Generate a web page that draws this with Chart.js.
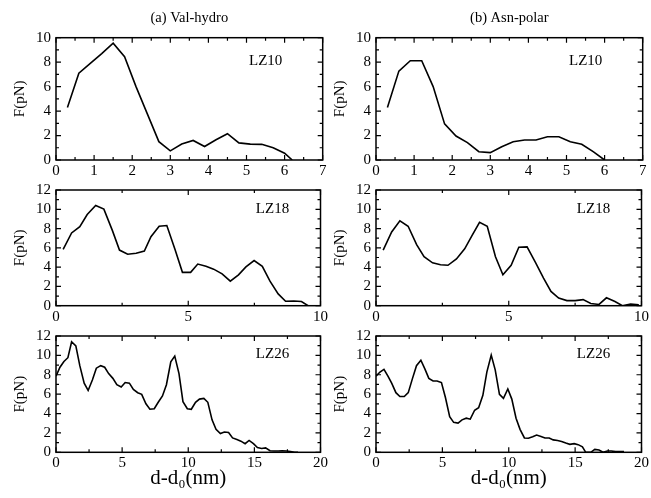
<!DOCTYPE html>
<html>
<head>
<meta charset="utf-8">
<script src="https://cdn.jsdelivr.net/npm/chart.js@4.4.0/dist/chart.umd.min.js"></script>
<style>
body { margin: 0; background: #fff; }
#wrap { position: relative; width: 651px; height: 498px; overflow: hidden; }
canvas { position: absolute; }
</style>
</head>
<body>
<div id="wrap">
    <canvas id="a10"></canvas>
    <canvas id="b10"></canvas>
    <canvas id="a18"></canvas>
    <canvas id="b18"></canvas>
    <canvas id="a26"></canvas>
    <canvas id="b26"></canvas>
</div>
<script>
// LZ10, (a) Val-hydro
const valLz10X = [0.3, 0.6, 0.9, 1.2, 1.5, 1.8, 2.1, 2.4, 2.7, 3.0, 3.3, 3.6, 3.9, 4.2, 4.5, 4.8, 5.1, 5.4, 5.7, 6.0, 6.2];
const valLz10Y = [4.3, 7.1, 7.9, 8.7, 9.55, 8.45, 6.0, 3.75, 1.5, 0.75, 1.3, 1.6, 1.1, 1.65, 2.15, 1.4, 1.3, 1.28, 1.0, 0.55, 0];
// LZ10, (b) Asn-polar
const asnLz10X = [0.3, 0.6, 0.9, 1.2, 1.5, 1.8, 2.1, 2.4, 2.7, 3.0, 3.3, 3.6, 3.9, 4.2, 4.5, 4.8, 5.1, 5.4, 5.7, 6.0];
const asnLz10Y = [4.3, 7.27, 8.12, 8.12, 6.0, 2.95, 1.96, 1.42, 0.68, 0.6, 1.09, 1.5, 1.63, 1.63, 1.9, 1.9, 1.5, 1.28, 0.68, 0];
// LZ18
const valLz18X = [0.27, 0.59, 0.9, 1.18, 1.5, 1.81, 2.13, 2.4, 2.71, 3.03, 3.34, 3.59, 3.9, 4.19, 4.5, 4.78, 5.09, 5.36, 5.67, 5.96, 6.28, 6.59, 6.9, 7.18, 7.49, 7.8, 8.09, 8.4, 8.68, 8.99, 9.28, 9.53];
const valLz18Y = [5.85, 7.55, 8.2, 9.46, 10.39, 10.02, 7.81, 5.77, 5.34, 5.44, 5.67, 7.15, 8.24, 8.31, 5.84, 3.46, 3.46, 4.32, 4.09, 3.79, 3.3, 2.54, 3.2, 4.02, 4.68, 4.09, 2.54, 1.22, 0.46, 0.49, 0.43, 0];
const asnLz18X = [0.27, 0.59, 0.9, 1.21, 1.53, 1.81, 2.13, 2.43, 2.71, 3.03, 3.34, 3.61, 3.9, 4.19, 4.5, 4.78, 5.09, 5.38, 5.69, 6.0, 6.31, 6.59, 6.88, 7.19, 7.5, 7.8, 8.09, 8.4, 8.68, 9.0, 9.28, 9.59, 9.9];
const asnLz18Y = [5.77, 7.65, 8.8, 8.24, 6.33, 5.08, 4.45, 4.25, 4.19, 4.85, 5.9, 7.25, 8.64, 8.24, 5.08, 3.2, 4.19, 6.07, 6.1, 4.52, 2.87, 1.48, 0.79, 0.53, 0.53, 0.63, 0.23, 0.13, 0.82, 0.43, 0, 0.16, 0.1];
// LZ26
const valLz26X = [0, 0.3, 0.6, 0.9, 1.18, 1.5, 1.8, 2.13, 2.43, 2.75, 3.05, 3.38, 3.68, 3.98, 4.3, 4.6, 4.93, 5.23, 5.55, 5.85, 6.18, 6.48, 6.8, 7.1, 7.43, 7.73, 8.05, 8.35, 8.68, 8.98, 9.3, 9.6, 9.93, 10.23, 10.55, 10.85, 11.18, 11.48, 11.8, 12.1, 12.43, 12.73, 13.05, 13.35, 13.68, 13.98, 14.3, 14.6, 14.93, 15.23, 15.55, 15.85, 16.18, 16.48, 16.8, 17.1, 17.43, 17.73, 18.05, 18.3];
const valLz26Y = [7.86, 8.78, 9.37, 9.76, 11.41, 10.98, 8.94, 7.13, 6.38, 7.46, 8.68, 8.94, 8.78, 8.12, 7.63, 6.97, 6.74, 7.2, 7.13, 6.48, 6.15, 5.98, 5.0, 4.44, 4.5, 5.16, 5.82, 6.97, 9.34, 9.93, 8.12, 5.23, 4.5, 4.44, 5.16, 5.49, 5.56, 5.16, 3.35, 2.37, 1.94, 2.1, 2.04, 1.48, 1.31, 1.15, 0.89, 1.22, 0.89, 0.49, 0.39, 0.46, 0.16, 0.13, 0.13, 0.16, 0.13, 0.07, 0, 0];
const asnLz26X = [0, 0.3, 0.6, 0.9, 1.18, 1.5, 1.8, 2.13, 2.43, 2.75, 3.05, 3.38, 3.68, 3.98, 4.3, 4.6, 4.93, 5.23, 5.55, 5.85, 6.18, 6.48, 6.8, 7.1, 7.43, 7.73, 8.05, 8.35, 8.68, 8.98, 9.3, 9.6, 9.93, 10.23, 10.55, 10.85, 11.18, 11.48, 11.8, 12.1, 12.43, 12.73, 13.05, 13.35, 13.68, 13.98, 14.3, 14.6, 14.93, 15.23, 15.55, 15.8, 16.18, 16.48, 16.8, 17.1, 17.43, 17.73, 18.05, 18.68];
const asnLz26Y = [7.86, 8.28, 8.55, 7.86, 7.13, 6.15, 5.75, 5.75, 6.15, 7.63, 8.94, 9.5, 8.61, 7.63, 7.36, 7.36, 7.2, 5.65, 3.68, 3.09, 3.02, 3.35, 3.52, 3.42, 4.34, 4.6, 5.88, 8.28, 10.03, 8.51, 5.98, 5.56, 6.54, 5.49, 3.52, 2.37, 1.48, 1.45, 1.61, 1.78, 1.64, 1.48, 1.48, 1.28, 1.22, 1.12, 0.95, 0.82, 0.89, 0.79, 0.56, 0, 0, 0.3, 0.23, 0, 0.13, 0.13, 0.07, 0.07];

const panelTitles = ['(a) Val-hydro', '(b) Asn-polar'];
const yTitle = 'F(pN)';
const xTitle = 'd-d\u2080(nm)';

const FONT = '"Liberation Serif", "Times New Roman", serif';

// draws the closed frame, inward ticks on four sides, panel label and column title
const framePlugin = {
    id: 'frame',
    afterDraw(chart, args, opts) {
        const ctx = chart.ctx;
        const a = chart.chartArea;
        const xs = chart.scales.x;
        const ys = chart.scales.y;
        ctx.save();
        ctx.strokeStyle = '#000';
        ctx.lineWidth = 1.5;
        ctx.strokeRect(a.left, a.top, a.right - a.left, a.bottom - a.top);
        ctx.lineWidth = 1.2;
        ctx.beginPath();
        for (let i = 0; xs.min + i * opts.xMinor <= xs.max + 1e-9; i++) {
            const v = xs.min + i * opts.xMinor;
            const r = v / opts.xMajor;
            const len = Math.abs(r - Math.round(r)) < 1e-6 ? 5 : 3;
            const px = xs.getPixelForValue(v);
            ctx.moveTo(px, a.bottom); ctx.lineTo(px, a.bottom - len);
            ctx.moveTo(px, a.top); ctx.lineTo(px, a.top + len);
        }
        for (let i = 0; ys.min + i * opts.yMinor <= ys.max + 1e-9; i++) {
            const v = ys.min + i * opts.yMinor;
            const r = v / opts.yMajor;
            const len = Math.abs(r - Math.round(r)) < 1e-6 ? 5 : 3;
            const py = ys.getPixelForValue(v);
            ctx.moveTo(a.left, py); ctx.lineTo(a.left + len, py);
            ctx.moveTo(a.right, py); ctx.lineTo(a.right - len, py);
        }
        ctx.stroke();
        ctx.fillStyle = '#000';
        ctx.textAlign = 'center';
        ctx.textBaseline = 'middle';
        ctx.font = '15px ' + FONT;
        ctx.fillText(opts.label, a.right - opts.labelDx, a.top + opts.labelDy);
        if (opts.title) {
            ctx.font = '14.5px ' + FONT;
            ctx.fillText(opts.title, (a.left + a.right) / 2, 18);
        }
        ctx.restore();
    }
};

function pairs(xs, ys) {
    return xs.map((x, i) => ({ x: x, y: ys[i] }));
}

function makePanel(id, box, xv, yv, o) {
    const el = document.getElementById(id);
    el.width = box.w;
    el.height = box.h;
    el.style.left = box.left + 'px';
    el.style.top = box.top + 'px';
    new Chart(el.getContext('2d'), {
        type: 'scatter',
        data: {
            datasets: [{
                data: pairs(xv, yv),
                showLine: true,
                borderColor: '#000',
                borderWidth: 1.6,
                pointRadius: 0,
                tension: 0
            }]
        },
        options: {
            responsive: false,
            animation: false,
            layout: { padding: { top: box.padTop, right: box.padRight, left: 0, bottom: 0 } },
            plugins: {
                legend: { display: false },
                tooltip: { enabled: false },
                frame: {
                    xMajor: o.xMajor, xMinor: o.xMinor, yMajor: 2, yMinor: 1,
                    label: o.label, labelDx: o.labelDx, labelDy: o.labelDy, title: o.title
                }
            },
            scales: {
                x: {
                    type: 'linear', min: 0, max: o.xMax,
                    grid: { display: false, drawTicks: false },
                    border: { display: false },
                    ticks: { stepSize: o.xMajor, color: '#000', padding: 2, maxRotation: 0, autoSkip: false,
                             font: { family: FONT, size: 15 } },
                    title: { display: !!o.xTitle, text: xTitle, color: '#000',
                             font: { family: FONT, size: 21 }, padding: { top: 0, bottom: 7 } },
                    afterFit: s => { s.height = box.xh; }
                },
                y: {
                    min: 0, max: o.yMax,
                    grid: { display: false, drawTicks: false },
                    border: { display: false },
                    ticks: { stepSize: 2, color: '#000', padding: 5, autoSkip: false,
                             font: { family: FONT, size: 15 } },
                    title: { display: true, text: yTitle, color: '#000',
                             font: { family: FONT, size: 15 }, padding: { top: box.titlePad, bottom: 0 } },
                    afterFit: s => { s.width = box.yw; }
                }
            }
        },
        plugins: [framePlugin]
    });
}

const leftCol = { left: 0, w: 330, yw: 56, padRight: 7.3, titlePad: 11 };
const rightCol = { left: 325, w: 326, yw: 51, padRight: 8.3, titlePad: 6 };
const row1 = { top: 0, h: 185, padTop: 37.7, xh: 25 };
const row2 = { top: 176, h: 160, padTop: 8.3, xh: 30.3 };
const row3 = { top: 322, h: 176, padTop: 8, xh: 45.7 };

const r1 = { xMax: 7, xMajor: 1, xMinor: 0.5, yMax: 10, label: 'LZ10', labelDx: 57, labelDy: 23 };
const r2 = { xMax: 10, xMajor: 5, xMinor: 2.5, yMax: 12, label: 'LZ18', labelDx: 48, labelDy: 19 };
const r3 = { xMax: 20, xMajor: 5, xMinor: 2.5, yMax: 12, label: 'LZ26', labelDx: 48, labelDy: 18, xTitle: true };

makePanel('a10', Object.assign({}, leftCol, row1), valLz10X, valLz10Y, Object.assign({ title: panelTitles[0] }, r1));
makePanel('b10', Object.assign({}, rightCol, row1), asnLz10X, asnLz10Y, Object.assign({ title: panelTitles[1] }, r1));
makePanel('a18', Object.assign({}, leftCol, row2), valLz18X, valLz18Y, r2);
makePanel('b18', Object.assign({}, rightCol, row2), asnLz18X, asnLz18Y, r2);
makePanel('a26', Object.assign({}, leftCol, row3), valLz26X, valLz26Y, r3);
makePanel('b26', Object.assign({}, rightCol, row3), asnLz26X, asnLz26Y, r3);
</script>
</body>
</html>
